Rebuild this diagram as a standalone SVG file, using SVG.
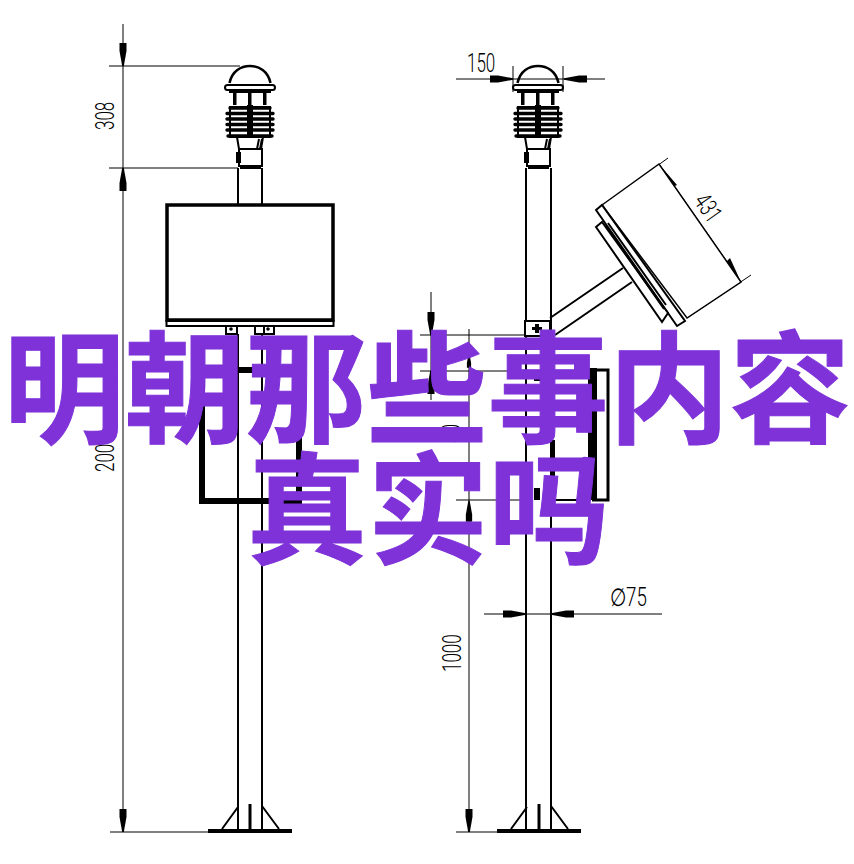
<svg xmlns="http://www.w3.org/2000/svg" xmlns:xlink="http://www.w3.org/1999/xlink" width="854" height="864" viewBox="0 0 854 864">
<style>
.t{fill:none;stroke:#000;stroke-width:1}
.m{fill:none;stroke:#000;stroke-width:2}
.k{fill:#000;stroke:none}
.w{fill:#fff;stroke:#000;stroke-width:2}
.d{font-family:"Roboto","Liberation Sans",sans-serif;font-size:25px;fill:#000;font-weight:300}
.o{font-family:"Noto Sans CJK SC",sans-serif;font-size:121px;font-weight:700;fill:#7e32d8;stroke:#7e32d8;stroke-width:1;text-anchor:middle}
</style>
<defs>
<path id="ah" class="k" d="M-3.500-23H3.500V-15L.8 0H-.8L-3.500-15Z"/>
<g id="sensor">
<path fill="none" stroke="#000" stroke-width="2.500" d="M-20.500 18C-18 6-9 1 0 1S18 6 20.500 18"/>
<rect class="w" x="-25" y="20" width="50" height="5" rx="2.500" stroke-width="2.500"/>
<path class="m" d="M-21 27H21"/>
<path class="k" d="M-17 26h3.500v14h-3.500zM-2 26h3.500v14h-3.500zM13 26h3.500v14h-3.500z"/>
<path class="m" d="M-20 42H20V72H-20Z"/>
<path stroke="#000" stroke-width="3.400" stroke-linecap="round" fill="none" d="M-20 43H20M-23 48.500H23M-23 54H23M-23 59.500H23M-23 65H23M-22 71H22"/>
<rect class="k" x="-3" y="40" width="6" height="32"/>
<path class="m" d="M-13 72L-11 84M13 72L11 84M-11 84H12V101H-11Z"/>
<path class="m" d="M9 74L7 84M12 74L10 84"/>
<rect class="k" x="-14" y="87" width="5" height="11"/>
<path class="m" d="M-9 101V103H10V101"/>
</g>
<g id="base">
<path class="k" d="M-42 0H42V4H-42Z"/>
<path class="m" d="M-12-22L-28 0M12-23L29 0"/>
<path class="k" d="M-1.500-25H1.500V0H-1.500Z"/>
</g>
</defs>

<g id="connectors">
<path class="t" d="M123 24V832M109 66H240M109 168H238M110 832H210"/>
<use xlink:href="#ah" transform="translate(123 66)"/>
<use xlink:href="#ah" transform="translate(123 168) rotate(180)"/>
<use xlink:href="#ah" transform="translate(123 832)"/>
<path class="t" d="M513 66V92M563 66V92M456 79H605"/>
<use xlink:href="#ah" transform="translate(513 79) rotate(-90)"/>
<use xlink:href="#ah" transform="translate(564 79) rotate(90)"/>
<path class="t" d="M431 292V400M420 335H525M420 371H526"/>
<use xlink:href="#ah" transform="translate(431 335)"/>
<use xlink:href="#ah" transform="translate(431 371) rotate(180)"/>
<path class="t" d="M469 329V832M456 832H500M456 500H526"/>
<use xlink:href="#ah" transform="translate(469 354) rotate(180) scale(.6)"/>
<use xlink:href="#ah" transform="translate(469 501) rotate(180) scale(.9)"/>
<use xlink:href="#ah" transform="translate(469 832)"/>
<path class="t" d="M484 614H662"/>
<use xlink:href="#ah" transform="translate(526 614) rotate(-90)"/>
<use xlink:href="#ah" transform="translate(551 614) rotate(90)"/>
<path class="t" d="M603 205L668 158M687 318L751 275M659 164L741 282"/>
<path class="k" d="M659 164L677 185L668 189Z"/>
<path class="k" d="M741 282L730 258L723 265Z"/>
</g>

<g id="left-unit">
<path class="m" d="M238 168V204M262 168V204M238 334V832M262 334V832"/>
<use xlink:href="#sensor" transform="translate(250 65)"/>
<use xlink:href="#base" transform="translate(250 829)"/>
<rect x="167" y="205" width="166" height="115" fill="#fff" stroke="#000" stroke-width="3.500"/>
<rect x="166.500" y="321" width="167" height="5" fill="#fff" stroke="#000" stroke-width="2"/>
<path class="m" d="M226 327V334H237V327M255 327V334H274V327M264 327V334"/>
<circle class="k" cx="231" cy="329" r="1.800"/><circle class="k" cx="268" cy="329" r="1.800"/>
<path fill="none" stroke="#000" stroke-width="6" d="M238 370H299V501H202V380"/>
</g>

<g id="right-unit">
<path class="m" d="M526 168V832M551 168V832"/>
<use xlink:href="#sensor" transform="translate(538 65)"/>
<use xlink:href="#base" transform="translate(539 829)"/>
<rect class="w" x="525" y="321" width="25" height="15"/>
<path class="k" d="M535 324h4v3h3v3h-3v3h-4v-3h-3v-3h3zM534 376h8v5h-8zM534 488h6v12h-6z"/>
<path class="m" d="M550 318L623 268M555 335L632 282"/>
<path d="M602 205L659 164L741 282L687 318Z" fill="#fff" stroke="#000" stroke-width="1.500"/>
<path class="w" d="M596 210L602 205L685 321L677 326Z"/>
<path class="w" d="M596 227L602 222L668 313L662 322Z"/>
<path class="m" d="M606 226L664 309M608 223L666 305"/>
<path class="k" d="M552 440h3v52h-3zM588 368h9v132h-9z"/>
<path class="m" style="stroke-width:3" d="M592 370H608V500H592"/>
<path class="m" d="M552 500H590"/>
</g>

<g id="dimension-labels">
<text class="d" transform="translate(114 130) rotate(-90) scale(.68 1)">308</text>
<text class="d" transform="translate(114 472) rotate(-90) scale(.68 1)">200</text>
<text class="d" transform="translate(467 72) scale(.68 1)">150</text>
<text class="d" transform="translate(693 201) rotate(55) scale(.68 1)">431</text>
<text class="d" transform="translate(460 443) rotate(-90) scale(.68 1)">30</text>
<text class="d" transform="translate(610 606) scale(.75 1)">∅75</text>
<text class="d" transform="translate(461 672) rotate(-90) scale(.68 1)">1000</text>
</g>

<g id="title">
<text class="o" x="427" y="433">明朝那些事内容</text>
<text class="o" x="428" y="554">真实吗</text>
</g>
</svg>
